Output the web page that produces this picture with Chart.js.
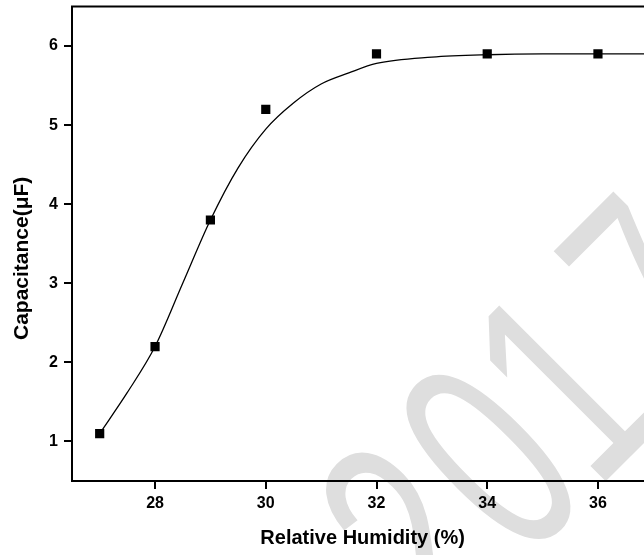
<!DOCTYPE html>
<html>
<head>
<meta charset="utf-8">
<script src="https://cdn.jsdelivr.net/npm/chart.js@4.4.1/dist/chart.umd.min.js"></script>
<style>
  html, body { margin: 0; padding: 0; background: #fff; overflow: hidden; }
  #wrap { position: relative; width: 690px; height: 555px; }
</style>
</head>
<body>
<div id="wrap"><canvas id="c"></canvas></div>
<script>
// measured points
const humidity = [27, 28, 29, 30, 32, 34, 36];
const capacitance = [1.1, 2.2, 3.8, 5.2, 5.9, 5.9, 5.9];

// fitted curve
const fitX = [27, 27.5, 28, 28.5, 29, 29.5, 30, 30.5, 31, 31.5, 32, 33, 34, 35, 36, 37.5];
const fitY = [1.1, 1.62, 2.2, 3.0, 3.8, 4.46, 4.95, 5.28, 5.52, 5.66, 5.78, 5.86, 5.89, 5.9, 5.9, 5.9];

const xTicks = [28, 30, 32, 34, 36];
const yTicks = [1, 2, 3, 4, 5, 6];

const FONT = "'Liberation Sans', Arial, sans-serif";

// light "2017" watermark behind everything (drawn glyph by glyph, the
// original face is narrower and spaced a little differently)
const WM_TEXT = '2017';
const WM_POS = [-15, 161, 322, 526];
const watermark = {
  id: 'watermark',
  beforeDraw(chart) {
    const ctx = chart.ctx;
    ctx.save();
    ctx.translate(450, 637);
    ctx.rotate(-Math.PI / 4);
    ctx.scale(0.64, 1);
    ctx.font = '290px ' + FONT;
    ctx.fillStyle = '#dedede';
    ctx.textBaseline = 'alphabetic';
    [...WM_TEXT].forEach((ch, i) => ctx.fillText(ch, WM_POS[i], 0));
    ctx.restore();
  }
};

// closed frame round the plot area
const frame = {
  id: 'frame',
  afterDatasetsDraw(chart) {
    const { ctx, chartArea: a } = chart;
    ctx.save();
    ctx.strokeStyle = '#000';
    ctx.lineWidth = 2;
    ctx.strokeRect(a.left, a.top, a.right - a.left, a.bottom - a.top);
    ctx.restore();
  }
};

const noPad = s => { s.paddingTop = 0; s.paddingBottom = 0; s.paddingLeft = 0; s.paddingRight = 0; };

new Chart(document.getElementById('c'), {
  type: 'scatter',
  data: {
    datasets: [
      {
        data: fitX.map((x, i) => ({ x, y: fitY[i] })),
        showLine: true,
        borderColor: '#000',
        borderWidth: 1.3,
        pointRadius: 0,
        cubicInterpolationMode: 'monotone',
        fill: false
      },
      {
        data: humidity.map((x, i) => ({ x, y: capacitance[i] })),
        pointStyle: 'rect',
        pointRadius: 6.5,
        backgroundColor: '#000',
        borderColor: '#000',
        borderWidth: 0
      }
    ]
  },
  options: {
    responsive: true,
    maintainAspectRatio: false,
    animation: false,
    layout: { padding: { top: 6, right: 9, left: 0, bottom: 0 } },
    plugins: { legend: { display: false }, tooltip: { enabled: false } },
    scales: {
      x: {
        type: 'linear',
        min: 26.5,
        max: 37.5,
        afterBuildTicks: s => { s.ticks = xTicks.map(v => ({ value: v })); },
        afterFit: s => { s.height = 74; noPad(s); },
        grid: { display: true, drawOnChartArea: false, drawTicks: true, tickLength: 8, color: '#000', lineWidth: 2 },
        border: { display: true, color: '#000', width: 2 },
        ticks: { color: '#000', padding: 5, font: { family: FONT, size: 16, weight: 'bold' }, maxRotation: 0 },
        title: { display: true, text: 'Relative Humidity (%)     ', color: '#000', padding: { top: 0, bottom: 5 }, font: { family: FONT, size: 20, weight: 'bold' } }
      },
      y: {
        type: 'linear',
        min: 0.5,
        max: 6.5,
        afterBuildTicks: s => { s.ticks = yTicks.map(v => ({ value: v })); },
        afterFit: s => { s.width = 72; noPad(s); },
        grid: { display: true, drawOnChartArea: false, drawTicks: true, tickLength: 8, color: '#000', lineWidth: 2 },
        border: { display: true, color: '#000', width: 2 },
        ticks: { color: '#000', padding: 6, font: { family: FONT, size: 16, weight: 'bold' } },
        title: { display: true, text: 'Capacitance(μF)     ', color: '#000', padding: { top: 10, bottom: 0 }, font: { family: FONT, size: 21, weight: 'bold' } }
      }
    }
  },
  plugins: [watermark, frame]
});
</script>
</body>
</html>
